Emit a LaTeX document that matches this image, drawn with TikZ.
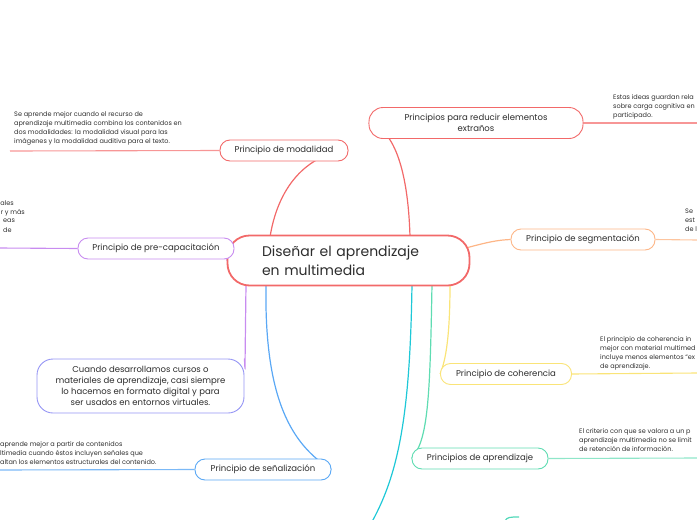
\documentclass[tikz,border=0pt]{standalone}
\usepackage{fontspec}
\setmainfont{Poppins}
\usetikzlibrary{backgrounds}
\definecolor{cRed}{RGB}{242,105,105}
\definecolor{cRedL}{RGB}{247,150,150}
\definecolor{cPurple}{RGB}{200,140,240}
\definecolor{cLav}{RGB}{150,150,245}
\definecolor{cBlue}{RGB}{90,168,245}
\definecolor{cOrange}{RGB}{253,182,135}
\definecolor{cYellow}{RGB}{250,228,120}
\definecolor{cGreen}{RGB}{95,220,178}
\definecolor{cCyan}{RGB}{30,200,215}
\definecolor{cText}{RGB}{45,45,45}
\tikzset{
  topic/.style={draw, fill=white, line width=0.9pt, rounded corners=10pt, inner sep=2pt,
    font=\fontsize{8.5}{11.5}\selectfont, text=cText, align=center},
  leaf/.style={inner sep=0pt, anchor=north west, align=left, text=cText,
    font=\fontsize{6.5}{9}\selectfont},
  leafr/.style={leaf, anchor=north east, align=right},
  conn/.style={line width=1.2pt},
  uline/.style={line width=1.1pt}
}
\begin{document}
\begin{tikzpicture}[x=1pt,y=-1pt]
\useasboundingbox (0,0) rectangle (697,520);

% central
\node[draw=cRed, fill=white, line width=1.8pt, rounded corners=22pt, minimum width=242, minimum height=50,
  text width=173, align=left, text=cText, font=\fontsize{14}{19}\selectfont, inner xsep=0pt]
  (central) at (348.5,260.5) {Diseñar el aprendizaje\\en multimedia};

% topics
\node[topic, draw=cRed, minimum width=214, minimum height=31, rounded corners=14pt] (reduce) at (476,123)
  {Principios para reducir elementos\\extraños};
\node[topic, draw=cRed, minimum width=128, minimum height=21] (modal) at (284,150.5) {Principio de modalidad};
\node[topic, draw=cPurple, minimum width=156, minimum height=21] (precap) at (156,248.5) {Principio de pre-capacitación};
\node[topic, draw=cLav, minimum width=207, minimum height=54, rounded corners=16pt, font=\fontsize{8.5}{11.2}\selectfont] (cuando) at (140.5,386)
  {Cuando desarrollamos cursos o\\materiales de aprendizaje, casi siempre\\lo hacemos en formato digital y para\\ser usados en entornos virtuales.};
\node[topic, draw=cBlue, minimum width=136, minimum height=21] (senal) at (263,469.5) {Principio de señalización};
\node[topic, draw=cOrange, minimum width=144, minimum height=21] (segm) at (583,239.5) {Principio de segmentación};
\node[topic, draw=cYellow, minimum width=131, minimum height=21] (coher) at (506,374) {Principio de coherencia};
\node[topic, draw=cGreen, minimum width=136, minimum height=21] (aprend) at (480,458.5) {Principios de aprendizaje};

% leaf texts
\node[leaf] (tmodal) at (14,111.5) {Se aprende mejor cuando el recurso de\\aprendizaje multimedia combina los contenidos en\\dos modalidades: la modalidad visual para las\\imágenes y la modalidad auditiva para el texto.};
\node[leaf] (treduce) at (613,94.5) {Estas ideas guardan rela\\sobre carga cognitiva en\\participado.};
\node[leafr] (tp1) at (14,200.5) {ales};
\node[leafr] (tp2) at (25,209.5) {r y más};
\node[leaf] (tp3) at (3,218.5) {eas};
\node[leaf] (tp4) at (3,227.5) {de};
\node[leaf] (tsegm) at (685,208.5) {Se\\est\\de l};
\node[leaf] (tcoher) at (600,336) {El principio de coherencia in\\mejor con material multimed\\incluye menos elementos ``ex\\de aprendizaje.};
\node[leaf] (taprend) at (579,428) {El criterio con que se valora a un p\\aprendizaje multimedia no se limit\\de retención de información.};
\node[leaf] (tsenal) at (0,441) {aprende mejor a partir de contenidos\\ltimedia cuando éstos incluyen señales que\\altan los elementos estructurales del contenido.};

% free ends
\coordinate (emodal) at (10,151);
\coordinate (ereduce) at (697,123);
\coordinate (eprecap) at (0,248);
\coordinate (esegm) at (697,240);
\coordinate (ecoher) at (697,373);
\coordinate (eaprend) at (697,458);
\coordinate (esenal) at (0,470);
\coordinate (ecyan) at (366,532);
% anchor points on central
\coordinate (cR1) at (410,237);
\coordinate (cR2) at (270,237);
\coordinate (cP) at (246,284);
\coordinate (cB) at (266,284);
\coordinate (cO) at (466,248);
\coordinate (cY) at (450,284);
\coordinate (cG) at (432,284);
\coordinate (cC) at (412,284);

\begin{pgfonlayer}{background}
\draw[conn, draw=cRed] (cR1) .. controls (408,165) and (392,128) .. (reduce.west);
\draw[conn, draw=cRed] (cR2) .. controls (280,175) and (318,152) .. (modal.east);
\draw[conn, draw=cPurple] (precap.east) -- (central.west);
\draw[conn, draw=cPurple] (cP) -- (245,366) .. controls (245,370) .. (cuando.north east);
\draw[conn, draw=cBlue] (cB) .. controls (264,400) and (292,445) .. (senal.east);
\draw[conn, draw=cOrange] (cO) .. controls (488,242) and (498,240) .. (segm.west);
\draw[conn, draw=cYellow] (cY) .. controls (450,335) and (446,360) .. (coher.west);
\draw[conn, draw=cGreen] (cG) .. controls (430,400) and (428,440) .. (aprend.west);
\draw[conn, draw=cCyan] (cC) .. controls (410,420) and (398,480) .. (ecyan);
\draw[conn, draw=cGreen!80!cCyan] (505,521) .. controls (507,517) and (510,517) .. (519,517);

\draw[uline, draw=cRedL] (modal.west) -- (emodal);
\draw[uline, draw=cRedL] (reduce.east) -- (ereduce);
\draw[uline, draw=cPurple] (precap.west) -- (eprecap);
\draw[uline, draw=cOrange!80] (segm.east) -- (esegm);
\draw[uline, draw=cYellow] (coher.east) -- (ecoher);
\draw[uline, draw=cGreen!70] (aprend.east) -- (eaprend);
\draw[uline, draw=cBlue!80] (senal.west) -- (esenal);
\end{pgfonlayer}
\end{tikzpicture}
\end{document}
